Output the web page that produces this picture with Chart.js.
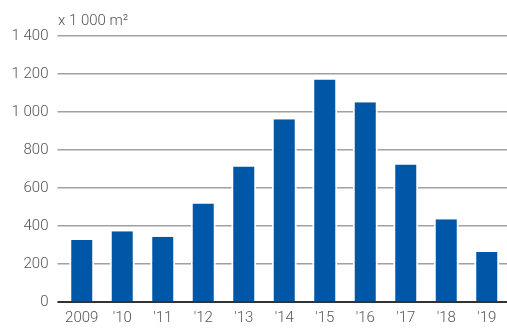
<!DOCTYPE html>
<html>
<head>
<meta charset="utf-8">
<script src="https://cdn.jsdelivr.net/npm/chart.js@4/dist/chart.umd.min.js"></script>
<style>
  html, body { margin: 0; padding: 0; background: #fff; }
  #wrap { width: 507px; height: 329px; position: relative; }
</style>
</head>
<body>
<div id="wrap"><canvas id="c" width="507" height="329"></canvas></div>
<script>
// Floor area per year, in thousands of square metres
const years = ['2009', "'10", "'11", "'12", "'13", "'14", "'15", "'16", "'17", "'18", "'19"];
const area = [326, 372, 343, 519, 713, 962, 1171, 1051, 724, 436, 263];
const unitLabel = 'x 1 000 m\u00B2';

const FONT = '"Roboto", "Liberation Sans", sans-serif';
const TEXT = '#555';

// Unit caption above the value axis and a dark baseline drawn over the bars
const extras = {
  id: 'extras',
  afterDatasetsDraw(chart) {
    const { ctx, chartArea, scales } = chart;
    const y0 = scales.y.getPixelForValue(0);
    ctx.save();
    ctx.strokeStyle = '#333';
    ctx.lineWidth = 2;
    ctx.beginPath();
    ctx.moveTo(chartArea.left - 4, y0);
    ctx.lineTo(chartArea.right, y0);
    ctx.stroke();
    ctx.fillStyle = TEXT;
    ctx.font = '300 15px ' + FONT;
    ctx.textAlign = 'left';
    ctx.textBaseline = 'alphabetic';
    ctx.fillText(unitLabel, chartArea.left - 3.5, 25);
    ctx.restore();
  }
};

new Chart(document.getElementById('c'), {
  type: 'bar',
  data: {
    labels: years,
    datasets: [{
      data: area,
      backgroundColor: '#0057a8',
      borderColor: '#ffffff',
      borderWidth: { left: 2, right: 2, top: 0, bottom: 0 },
      borderSkipped: false,
      categoryPercentage: 1,
      barPercentage: 0.617
    }]
  },
  options: {
    responsive: false,
    animation: false,
    layout: { padding: { top: 36, right: 0, bottom: 0, left: 0 } },
    plugins: { legend: { display: false }, tooltip: { enabled: false } },
    scales: {
      x: {
        grid: { display: false, drawTicks: false },
        border: { display: false },
        ticks: { color: TEXT, font: { family: FONT, size: 15, weight: 300 }, padding: 7, maxRotation: 0 },
        afterFit(scale) { scale.height = 27; }
      },
      y: {
        min: 0,
        max: 1400,
        border: { display: false },
        grid: {
          color: '#a0a0a0',
          lineWidth: 1.5,
          drawTicks: true,
          tickLength: 4
        },
        ticks: {
          stepSize: 200,
          color: TEXT,
          padding: 9,
          font: { family: FONT, size: 15, weight: 300 },
          callback: (v) => String(v).replace(/\B(?=(\d{3})+(?!\d))/g, ' ')
        },
        afterFit(scale) { scale.width = 61.5; }
      }
    }
  },
  plugins: [extras]
});
</script>
</body>
</html>
